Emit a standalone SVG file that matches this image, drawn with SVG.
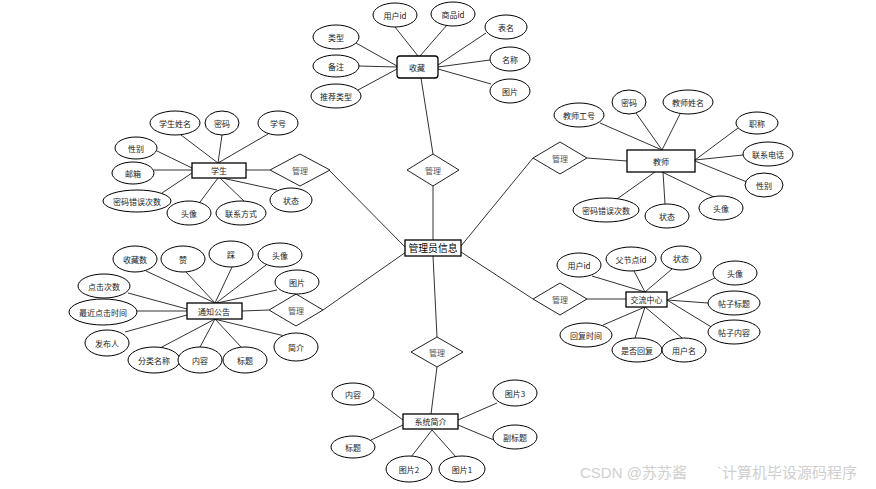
<svg xmlns="http://www.w3.org/2000/svg" width="876" height="489" viewBox="0 0 876 489">
<style>
.e{fill:#fff;stroke:#000;stroke-width:1}
.b{fill:#fff;stroke:#000;stroke-width:1.3}
.d{fill:#fff;stroke:#222;stroke-width:1}
.t{font-family:"Noto Sans CJK SC","Noto Sans",sans-serif;font-size:8px;fill:#222;text-anchor:middle;dominant-baseline:central}
.dt{fill:#555}
.mt{font-size:9.8px;fill:#000}
.c line{stroke:#333;stroke-width:1}
.wm{font-family:"Liberation Sans","Noto Sans CJK SC",sans-serif;font-size:15px;fill:#cfcfcf}
</style>
<rect width="876" height="489" fill="#fff"/>
<g id="connectors" class="c">
<line x1="433" y1="240" x2="433" y2="186"/>
<line x1="421" y1="78" x2="433" y2="154"/>
<line x1="329" y1="170" x2="406" y2="248"/>
<line x1="323" y1="310" x2="406" y2="252"/>
<line x1="461" y1="246" x2="533" y2="158"/>
<line x1="461" y1="252" x2="533" y2="299"/>
<line x1="433" y1="256" x2="437" y2="337"/>
<line x1="437" y1="367" x2="431" y2="414"/>
<line x1="246" y1="170" x2="270" y2="170"/>
<line x1="587" y1="158" x2="627" y2="161"/>
<line x1="242" y1="311" x2="269" y2="310"/>
<line x1="587" y1="299" x2="626" y2="299"/>
<line x1="395" y1="27" x2="418" y2="56"/>
<line x1="447" y1="25" x2="420" y2="56"/>
<line x1="356" y1="43" x2="397" y2="66"/>
<line x1="359" y1="66" x2="397" y2="67"/>
<line x1="358" y1="90" x2="397" y2="69"/>
<line x1="486" y1="33" x2="438" y2="65"/>
<line x1="490" y1="60" x2="438" y2="67"/>
<line x1="491" y1="84" x2="438" y2="69"/>
<line x1="181" y1="135" x2="218" y2="163"/>
<line x1="222" y1="135" x2="218" y2="163"/>
<line x1="268" y1="134" x2="218" y2="163"/>
<line x1="157" y1="151" x2="192" y2="168"/>
<line x1="154" y1="170" x2="192" y2="170"/>
<line x1="162" y1="193" x2="192" y2="173"/>
<line x1="200" y1="202" x2="218" y2="178"/>
<line x1="244" y1="201" x2="220" y2="178"/>
<line x1="277" y1="190" x2="222" y2="178"/>
<line x1="600" y1="123" x2="662" y2="150"/>
<line x1="636" y1="113" x2="662" y2="150"/>
<line x1="680" y1="114" x2="662" y2="150"/>
<line x1="738" y1="128" x2="695" y2="160"/>
<line x1="743" y1="155" x2="695" y2="160"/>
<line x1="747" y1="182" x2="695" y2="161"/>
<line x1="617" y1="199" x2="655" y2="172"/>
<line x1="665" y1="204" x2="663" y2="172"/>
<line x1="714" y1="197" x2="662" y2="172"/>
<line x1="146" y1="271" x2="215" y2="303"/>
<line x1="186" y1="272" x2="215" y2="303"/>
<line x1="232" y1="267" x2="215" y2="303"/>
<line x1="266" y1="265" x2="216" y2="303"/>
<line x1="277" y1="290" x2="217" y2="303"/>
<line x1="128" y1="293" x2="187" y2="309"/>
<line x1="137" y1="311" x2="187" y2="311"/>
<line x1="125" y1="332" x2="187" y2="315"/>
<line x1="160" y1="348" x2="215" y2="319"/>
<line x1="200" y1="347" x2="215" y2="319"/>
<line x1="242" y1="348" x2="215" y2="319"/>
<line x1="289" y1="337" x2="214" y2="319"/>
<line x1="592" y1="276" x2="645" y2="292"/>
<line x1="634" y1="271" x2="645" y2="292"/>
<line x1="672" y1="269" x2="645" y2="292"/>
<line x1="717" y1="277" x2="667" y2="300"/>
<line x1="708" y1="303" x2="667" y2="300"/>
<line x1="713" y1="328" x2="667" y2="300"/>
<line x1="603" y1="325" x2="645" y2="307"/>
<line x1="635" y1="338" x2="645" y2="307"/>
<line x1="682" y1="338" x2="645" y2="307"/>
<line x1="371" y1="396" x2="403" y2="420"/>
<line x1="371" y1="440" x2="403" y2="425"/>
<line x1="497" y1="403" x2="458" y2="420"/>
<line x1="494" y1="440" x2="458" y2="425"/>
<line x1="411" y1="457" x2="432" y2="430"/>
<line x1="456" y1="457" x2="432" y2="430"/>
</g>

<g id="admin"><rect class="b" x="405" y="240" width="56" height="16"/><text class="t mt" x="433" y="248">管理员信息</text></g>

<g id="rel-fav"><path class="d" d="M407,170 L433,154 L459,170 L433,186 Z"/><text class="t dt" x="433" y="170">管理</text></g>
<g id="rel-student"><path class="d" d="M270,170 L300,154 L330,170 L300,186 Z"/><text class="t dt" x="300" y="170">管理</text></g>
<g id="rel-teacher"><path class="d" d="M533,158 L560,142 L587,158 L560,174 Z"/><text class="t dt" x="560" y="158">管理</text></g>
<g id="rel-notice"><path class="d" d="M269,310 L296,294 L323,310 L296,326 Z"/><text class="t dt" x="296" y="310">管理</text></g>
<g id="rel-forum"><path class="d" d="M533,299 L560,283 L587,299 L560,315 Z"/><text class="t dt" x="560" y="299">管理</text></g>
<g id="rel-system"><path class="d" d="M411,352 L437,337 L463,352 L437,367 Z"/><text class="t dt" x="437" y="352">管理</text></g>

<g id="fav"><rect class="b" x="397" y="56" width="41" height="22" rx="3"/><text class="t" x="417" y="67">收藏</text></g>
<g id="fav-userid"><ellipse class="e" cx="395" cy="15" rx="22" ry="12"/><text class="t" x="395" y="15">用户id</text></g>
<g id="fav-goodsid"><ellipse class="e" cx="453" cy="14" rx="22" ry="12"/><text class="t" x="453" y="14">商品id</text></g>
<g id="fav-type"><ellipse class="e" cx="336" cy="37" rx="23" ry="12"/><text class="t" x="336" y="37">类型</text></g>
<g id="fav-note"><ellipse class="e" cx="336" cy="66" rx="23" ry="11"/><text class="t" x="336" y="66">备注</text></g>
<g id="fav-rectype"><ellipse class="e" cx="336" cy="96" rx="25" ry="12"/><text class="t" x="336" y="96">推荐类型</text></g>
<g id="fav-table"><ellipse class="e" cx="506" cy="27" rx="21" ry="12"/><text class="t" x="506" y="27">表名</text></g>
<g id="fav-name"><ellipse class="e" cx="510" cy="59" rx="20" ry="12"/><text class="t" x="510" y="59">名称</text></g>
<g id="fav-img"><ellipse class="e" cx="510" cy="91" rx="20" ry="12"/><text class="t" x="510" y="91">图片</text></g>

<g id="student"><rect class="b" x="192" y="163" width="54" height="15"/><text class="t" x="219" y="170.5">学生</text></g>
<g id="stu-name"><ellipse class="e" cx="175" cy="123" rx="25" ry="12"/><text class="t" x="175" y="123">学生姓名</text></g>
<g id="stu-pwd"><ellipse class="e" cx="222" cy="123" rx="17" ry="12"/><text class="t" x="222" y="123">密码</text></g>
<g id="stu-no"><ellipse class="e" cx="278" cy="123" rx="20" ry="12"/><text class="t" x="278" y="123">学号</text></g>
<g id="stu-sex"><ellipse class="e" cx="136" cy="148" rx="21" ry="11"/><text class="t" x="136" y="148">性别</text></g>
<g id="stu-mail"><ellipse class="e" cx="133" cy="173" rx="21" ry="11"/><text class="t" x="133" y="173">邮箱</text></g>
<g id="stu-err"><ellipse class="e" cx="137" cy="201" rx="34" ry="11"/><text class="t" x="137" y="201">密码错误次数</text></g>
<g id="stu-avatar"><ellipse class="e" cx="189" cy="213" rx="22" ry="12"/><text class="t" x="189" y="213">头像</text></g>
<g id="stu-contact"><ellipse class="e" cx="241" cy="213" rx="25" ry="12"/><text class="t" x="241" y="213">联系方式</text></g>
<g id="stu-status"><ellipse class="e" cx="291" cy="200" rx="21" ry="12"/><text class="t" x="291" y="200">状态</text></g>

<g id="teacher"><rect class="b" x="627" y="150" width="68" height="22"/><text class="t" x="661" y="161">教师</text></g>
<g id="tea-no"><ellipse class="e" cx="579" cy="115" rx="25" ry="12"/><text class="t" x="579" y="115">教师工号</text></g>
<g id="tea-pwd"><ellipse class="e" cx="629" cy="102" rx="17" ry="12"/><text class="t" x="629" y="102">密码</text></g>
<g id="tea-name"><ellipse class="e" cx="688" cy="102" rx="25" ry="12"/><text class="t" x="688" y="102">教师姓名</text></g>
<g id="tea-title"><ellipse class="e" cx="757" cy="123" rx="21" ry="11"/><text class="t" x="757" y="123">职称</text></g>
<g id="tea-phone"><ellipse class="e" cx="768" cy="154" rx="25" ry="12"/><text class="t" x="768" y="154">联系电话</text></g>
<g id="tea-sex"><ellipse class="e" cx="764" cy="185" rx="19" ry="12"/><text class="t" x="764" y="185">性别</text></g>
<g id="tea-err"><ellipse class="e" cx="606" cy="210" rx="33" ry="12"/><text class="t" x="606" y="210">密码错误次数</text></g>
<g id="tea-status"><ellipse class="e" cx="667" cy="216" rx="22" ry="12"/><text class="t" x="667" y="216">状态</text></g>
<g id="tea-avatar"><ellipse class="e" cx="721" cy="208" rx="22" ry="12"/><text class="t" x="721" y="208">头像</text></g>

<g id="notice"><rect class="b" x="187" y="303" width="55" height="16"/><text class="t" x="214" y="311">通知公告</text></g>
<g id="no-fav"><ellipse class="e" cx="135" cy="259" rx="22" ry="13"/><text class="t" x="135" y="259">收藏数</text></g>
<g id="no-like"><ellipse class="e" cx="183" cy="259" rx="22" ry="13"/><text class="t" x="183" y="259">赞</text></g>
<g id="no-dislike"><ellipse class="e" cx="231" cy="254" rx="22" ry="13"/><text class="t" x="231" y="254">踩</text></g>
<g id="no-avatar"><ellipse class="e" cx="280" cy="255" rx="22" ry="12"/><text class="t" x="280" y="255">头像</text></g>
<g id="no-img"><ellipse class="e" cx="297" cy="282" rx="22" ry="12"/><text class="t" x="297" y="282">图片</text></g>
<g id="no-clicks"><ellipse class="e" cx="104" cy="286" rx="26" ry="12"/><text class="t" x="104" y="286">点击次数</text></g>
<g id="no-lastclick"><ellipse class="e" cx="103" cy="312" rx="34" ry="13"/><text class="t" x="103" y="312">最近点击时间</text></g>
<g id="no-publisher"><ellipse class="e" cx="107" cy="343" rx="22" ry="13"/><text class="t" x="107" y="343">发布人</text></g>
<g id="no-category"><ellipse class="e" cx="154" cy="360" rx="26" ry="13"/><text class="t" x="154" y="360">分类名称</text></g>
<g id="no-content"><ellipse class="e" cx="200" cy="360" rx="22" ry="13"/><text class="t" x="200" y="360">内容</text></g>
<g id="no-title"><ellipse class="e" cx="245" cy="360" rx="22" ry="13"/><text class="t" x="245" y="360">标题</text></g>
<g id="no-intro"><ellipse class="e" cx="296" cy="347" rx="22" ry="14"/><text class="t" x="296" y="347">简介</text></g>

<g id="forum"><rect class="b" x="626" y="292" width="41" height="15"/><text class="t" x="646.5" y="299.5">交流中心</text></g>
<g id="fo-userid"><ellipse class="e" cx="579" cy="265" rx="22" ry="12"/><text class="t" x="579" y="265">用户id</text></g>
<g id="fo-parentid"><ellipse class="e" cx="631" cy="259" rx="25" ry="12"/><text class="t" x="631" y="259">父节点id</text></g>
<g id="fo-status"><ellipse class="e" cx="681" cy="258" rx="20" ry="12"/><text class="t" x="681" y="258">状态</text></g>
<g id="fo-avatar"><ellipse class="e" cx="735" cy="273" rx="22" ry="12"/><text class="t" x="735" y="273">头像</text></g>
<g id="fo-title"><ellipse class="e" cx="734" cy="303" rx="26" ry="12"/><text class="t" x="734" y="303">帖子标题</text></g>
<g id="fo-content"><ellipse class="e" cx="734" cy="332" rx="26" ry="12"/><text class="t" x="734" y="332">帖子内容</text></g>
<g id="fo-replytime"><ellipse class="e" cx="586" cy="335" rx="26" ry="12"/><text class="t" x="586" y="335">回复时间</text></g>
<g id="fo-replied"><ellipse class="e" cx="637" cy="350" rx="25" ry="12"/><text class="t" x="637" y="350">是否回复</text></g>
<g id="fo-username"><ellipse class="e" cx="684" cy="350" rx="22" ry="12"/><text class="t" x="684" y="350">用户名</text></g>

<g id="system"><rect class="b" x="403" y="414" width="55" height="15"/><text class="t" x="430.5" y="421.5">系统简介</text></g>
<g id="sys-content"><ellipse class="e" cx="353" cy="394" rx="21" ry="11"/><text class="t" x="353" y="394">内容</text></g>
<g id="sys-title"><ellipse class="e" cx="353" cy="447" rx="22" ry="11"/><text class="t" x="353" y="447">标题</text></g>
<g id="sys-img3"><ellipse class="e" cx="515" cy="393" rx="22" ry="13"/><text class="t" x="515" y="393">图片3</text></g>
<g id="sys-subtitle"><ellipse class="e" cx="515" cy="437" rx="22" ry="12"/><text class="t" x="515" y="437">副标题</text></g>
<g id="sys-img2"><ellipse class="e" cx="409" cy="469" rx="23" ry="13"/><text class="t" x="409" y="469">图片2</text></g>
<g id="sys-img1"><ellipse class="e" cx="462" cy="469" rx="23" ry="13"/><text class="t" x="462" y="469">图片1</text></g>

<text class="wm" x="580" y="478">CSDN @苏苏酱</text>
<text class="wm" x="717" y="478">`计算机毕设源码程序</text>
</svg>
